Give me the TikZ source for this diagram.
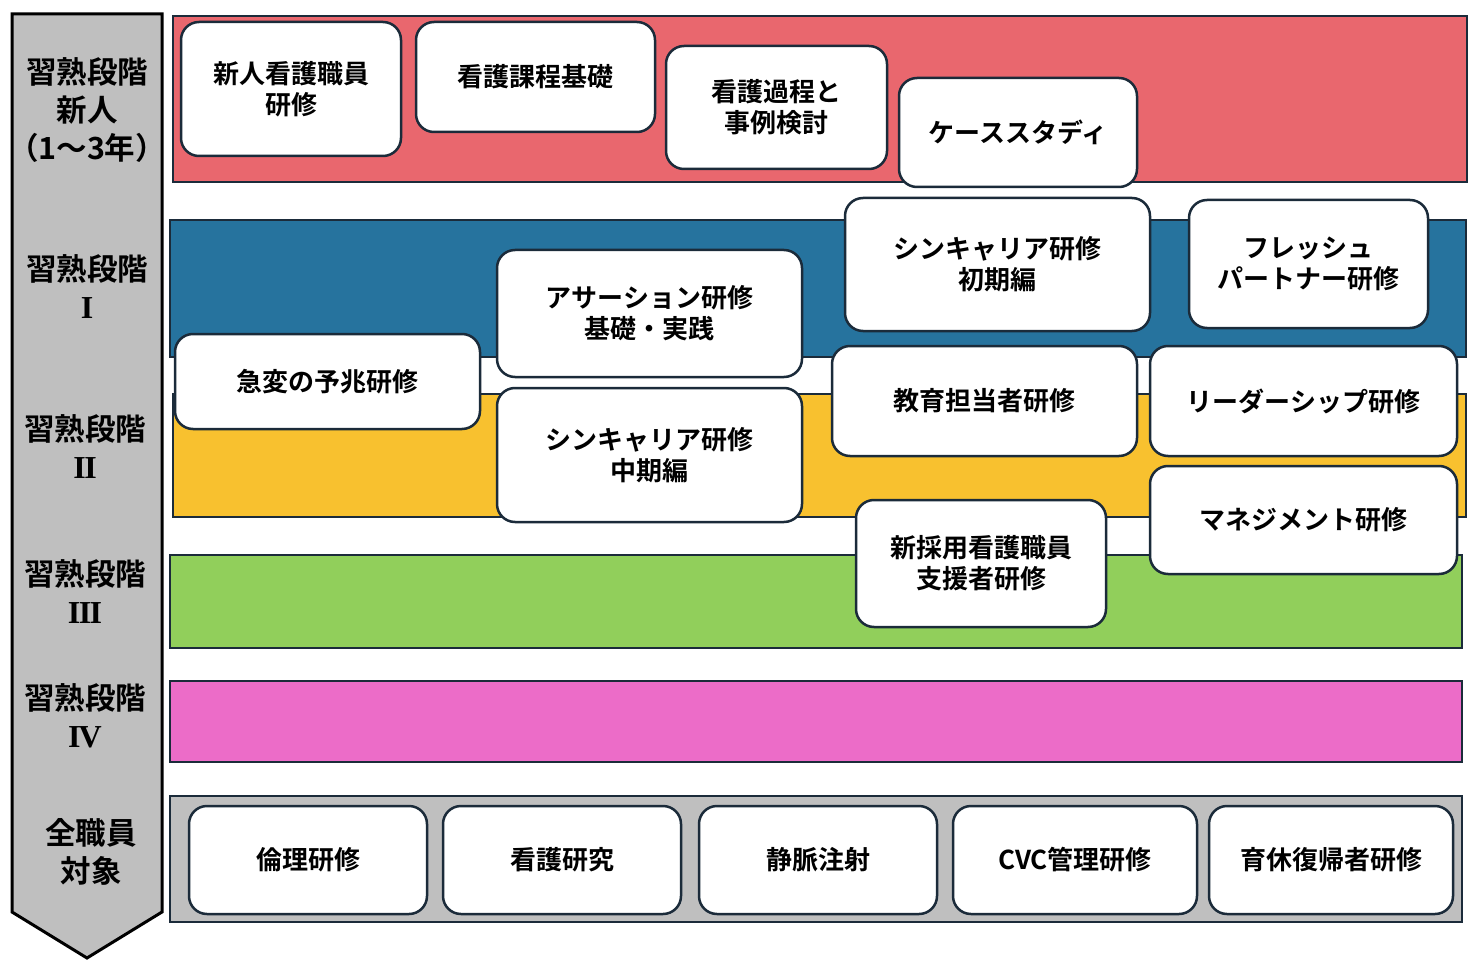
\documentclass[tikz,border=0pt]{standalone}
\usepackage{fontspec}
\newfontfamily\jp{Noto Sans CJK JP}[BoldFont={Noto Sans CJK JP Bold}]
\newfontfamily\ser{Liberation Serif}
\newcommand{\rnum}[1]{{\ser\bfseries\fontsize{32}{38}\selectfont #1}}
\definecolor{bordc}{HTML}{1B2B3A}
\definecolor{cred}{HTML}{E9676E}
\definecolor{cblue}{HTML}{26739E}
\definecolor{cyellow}{HTML}{F8C12F}
\definecolor{cgreen}{HTML}{91CF5B}
\definecolor{cpink}{HTML}{EC6CC8}
\definecolor{cgray}{HTML}{BFBFBF}
\tikzset{
  band/.style={draw=bordc, line width=2.5pt, inner sep=0pt, outer sep=0pt},
  box/.style={draw=bordc, line width=2.5pt, fill=white, rounded corners=18pt,
    align=center, inner sep=0pt, outer sep=0pt,
    font=\jp\bfseries\fontsize{26}{31}\selectfont},
  lvl/.style={align=center, inner sep=0pt, font=\jp\bfseries\fontsize{30.5}{38}\selectfont}
}
\begin{document}
\begin{tikzpicture}[x=1pt,y=-1pt]
\useasboundingbox (0,0) rectangle (1480,976);
% left arrow
\draw[draw=black, line width=3pt, fill=cgray, line join=miter]
  (12,14) -- (162,14) -- (162,912) -- (87,958) -- (12,912) -- cycle;
\node[lvl] (l0) at (87,110) {習熟段階\\新人\\（1〜3年）};
\node[lvl] (l1) at (87,287) {習熟段階\\\rnum{I}};
\node[lvl] (l2) at (85,447) {習熟段階\\\rnum{I\kern-1.5ptI}};
\node[lvl] (l3) at (85,592) {習熟段階\\\rnum{I\kern-1.5ptI\kern-1.5ptI}};
\node[lvl] (l4) at (85,716) {習熟段階\\\rnum{I\kern-2ptV}};
\node[lvl] (l5) at (91,852) {全職員\\対象};
% bands
\node[band, fill=cred, minimum width=1294, minimum height=166] (bred) at (820,99) {};
\node[band, fill=cblue, minimum width=1296, minimum height=137] (bblue) at (818,288.5) {};
\node[band, fill=cyellow, minimum width=1293, minimum height=123] (byel) at (819.5,455.5) {};
\node[band, fill=cgreen, minimum width=1292, minimum height=93] (bgreen) at (816,601.5) {};
\node[band, fill=cpink, minimum width=1292, minimum height=81] (bpink) at (816,721.5) {};
\node[band, fill=cgray, minimum width=1292, minimum height=126] (bgray) at (816,859) {};
% boxes
\node[box, minimum width=220, minimum height=134] (b1) at (291,89) {新人看護職員\\研修};
\node[box, minimum width=239, minimum height=110] (b2) at (535.5,77) {看護課程基礎};
\node[box, minimum width=221, minimum height=123] (b3) at (776.5,107.5) {看護過程と\\事例検討};
\node[box, minimum width=238, minimum height=109] (b4) at (1018,132.5) {ケーススタディ};
\node[box, minimum width=305, minimum height=133] (b5) at (997.5,264.5) {シンキャリア研修\\初期編};
\node[box, minimum width=239, minimum height=128] (b6) at (1308.5,264) {フレッシュ\\パートナー研修};
\node[box, minimum width=305, minimum height=127] (b7) at (649.5,313.5) {アサーション研修\\基礎・実践};
\node[box, minimum width=305, minimum height=95] (b8) at (327.5,381.5) {急変の予兆研修};
\node[box, minimum width=305, minimum height=134] (b9) at (649.5,455) {シンキャリア研修\\中期編};
\node[box, minimum width=305, minimum height=110] (b10) at (984.5,401) {教育担当者研修};
\node[box, minimum width=307, minimum height=110] (b11) at (1303.5,401) {リーダーシップ研修};
\node[box, minimum width=307, minimum height=108] (b12) at (1303.5,520) {マネジメント研修};
\node[box, minimum width=250, minimum height=127] (b13) at (981,563.5) {新採用看護職員\\支援者研修};
\node[box, minimum width=238, minimum height=108] (c1) at (308,860) {倫理研修};
\node[box, minimum width=238, minimum height=108] (c2) at (562,860) {看護研究};
\node[box, minimum width=238, minimum height=108] (c3) at (818,860) {静脈注射};
\node[box, minimum width=244, minimum height=108] (c4) at (1075,860) {CVC管理研修};
\node[box, minimum width=244, minimum height=108] (c5) at (1331,860) {育休復帰者研修};
\end{tikzpicture}
\end{document}
